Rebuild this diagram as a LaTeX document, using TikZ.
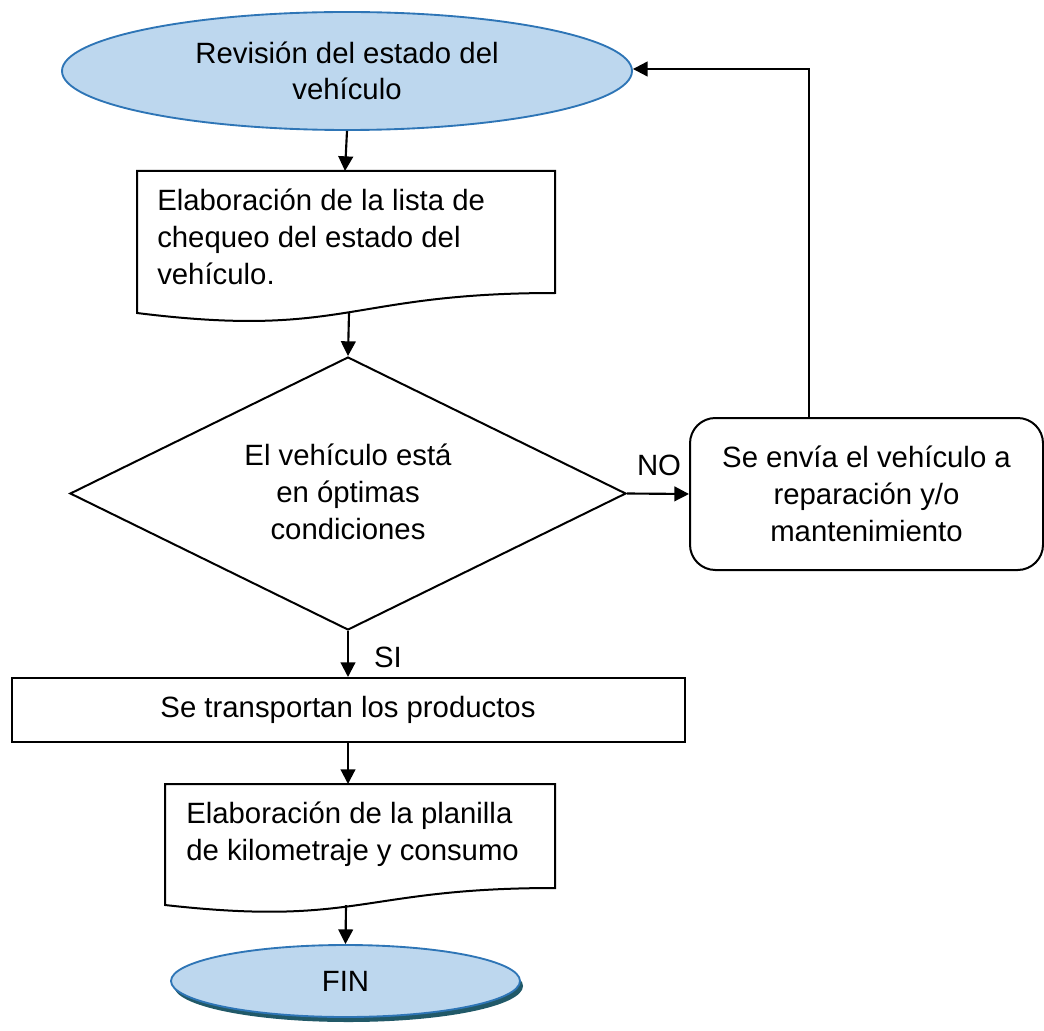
\documentclass[tikz,border=0pt]{standalone}
\usepackage{fontspec}
\setmainfont{Liberation Sans}
\usetikzlibrary{shapes.geometric,arrows.meta}
\definecolor{termfill}{HTML}{BDD7EE}
\definecolor{termline}{HTML}{2E75B6}
\definecolor{termshadow}{HTML}{215968}

\begin{document}
\begin{tikzpicture}[x=0.75pt,y=-0.75pt,
  every node/.style={font=\fontsize{22}{27.5}\selectfont, inner sep=0pt},
  terminal/.style={ellipse, draw=termline, fill=termfill, line width=1.4pt, align=center},
  flowbox/.style={draw=black, line width=1.5pt},
  conn/.style={line width=1.6pt, -{Triangle[length=11pt,width=11pt]}},
  lbl/.style={}
]
\useasboundingbox (0,0) rectangle (1044,1030);

% start terminal
\node[terminal, minimum width=427.5pt, minimum height=88.5pt] (start) at (347,71)
  {Revisión del estado del\\vehículo};

% checklist document
\draw[flowbox] (137,171) -- (555,171) -- (555,293)
  .. controls (346,293) and (346,339) .. (137,313) -- cycle;
\coordinate (doc1in) at (345,171);
\coordinate (doc1out) at (349,313);
\node[align=left, anchor=west] (doc1txt) at (157,237)
  {Elaboración de la lista de\\chequeo del estado del\\vehículo.};

% decision
\node[draw, diamond, line width=1.5pt, minimum width=417pt, minimum height=204.75pt] (dec) at (348,493.5) {};
\node[align=center] (dectxt) at (348,492) {El vehículo está\\en óptimas\\condiciones};

% repair box
\node[flowbox, rounded corners=19pt, minimum width=264.75pt, minimum height=114pt, align=center]
  (fix) at (866.5,494) {Se envía el vehículo a\\reparación y/o\\mantenimiento};

% transport box
\node[flowbox, minimum width=504.75pt, minimum height=48pt] (trans) at (348,710)
  {Se transportan los productos};

% mileage document
\draw[flowbox] (165,784) -- (555,784) -- (555,888)
  .. controls (360,888) and (360,927) .. (165,905) -- cycle;
\coordinate (doc2in) at (348,784);
\coordinate (doc2out) at (346,905);
\node[align=left, anchor=west] (doc2txt) at (186,834)
  {Elaboración de la planilla\\de kilometraje y consumo};

% end terminal with shadow
\node[ellipse, fill=termshadow, minimum width=261.75pt, minimum height=54pt] (finshadow) at (348.5,986) {};
\node[terminal, minimum width=261.75pt, minimum height=54pt] (fin) at (345.5,981) {FIN};

% connectors
\draw[conn] (start.south) -- (doc1in);
\draw[conn] (doc1out) -- (dec.north);
\draw[conn] (dec.east) -- (fix.west);
\node[lbl] (nolbl) at (659,465) {NO};
\coordinate (up) at (809,69);
\draw[conn] (fix.north -| up) -- (up) -- (start.east |- up);
\draw[conn] (dec.south) -- (trans.north);
\node[lbl] (silbl) at (388,657) {SI};
\draw[conn] (trans.south) -- (doc2in);
\draw[conn] (doc2out) -- (fin.north);
\end{tikzpicture}
\end{document}
